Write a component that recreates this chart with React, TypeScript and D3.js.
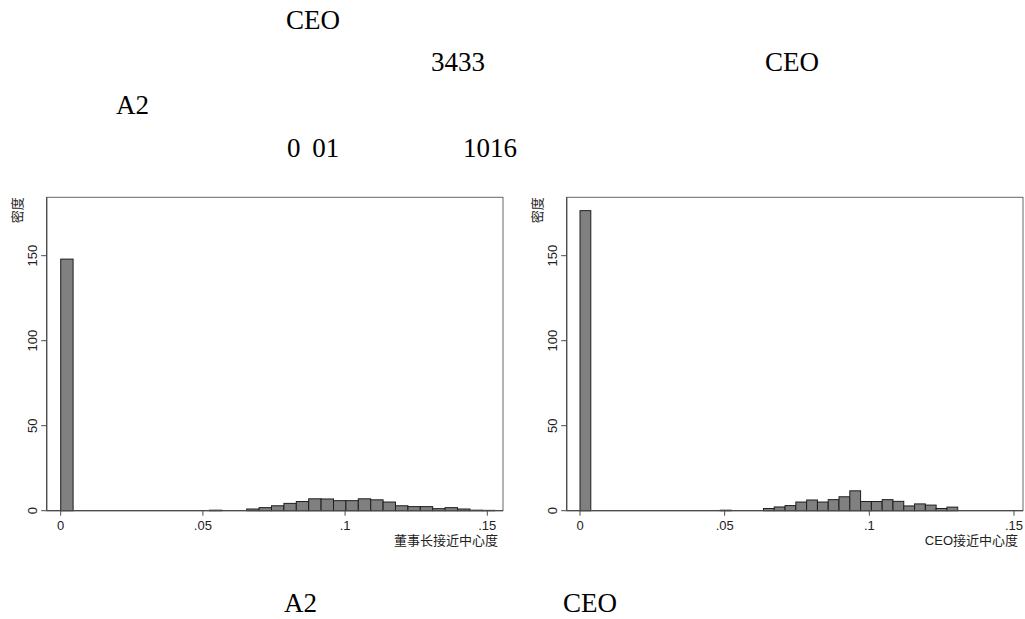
import React from "react";
import * as d3 from "d3";

// histogram densities, 35 bins starting at 0
const chairDensity = [
  148, 0, 0, 0, 0, 0, 0, 0, 0, 0, 0, 0, 0.3, 0, 0,
  1.0, 1.8, 2.9, 4.3, 5.4, 7.0, 6.9, 5.9, 5.9, 7.0, 6.4, 5.1, 2.9, 2.4, 2.4,
  1.2, 1.8, 1.0, 0.3, 0.2,
];
const ceoDensity = [
  176.5, 0, 0, 0, 0, 0, 0, 0, 0, 0, 0, 0, 0, 0.3, 0, 0, 0,
  1.3, 2.2, 3.0, 5.1, 6.3, 5.1, 6.5, 8.2, 11.7, 5.4, 5.4, 6.5, 5.5, 2.8,
  4.0, 3.3, 1.3, 2.1,
];
const chairBinWidth = 0.00436;
const ceoBinWidth = 0.00373;

const xTicks = [0, 0.05, 0.1, 0.15];
const xTickLabels = ["0", ".05", ".1", ".15"];
const yTicks = [0, 50, 100, 150];
const yTitle = "密度";
const chairTitle = "董事长接近中心度";
const ceoTitle = "CEO接近中心度";

// leftover document text around the figure
const docText = [
  { t: "CEO", x: 286, y: 29 },
  { t: "3433", x: 431, y: 71 },
  { t: "CEO", x: 765, y: 71 },
  { t: "A2", x: 116, y: 114 },
  { t: "0 01", x: 287, y: 157 },
  { t: "1016", x: 463, y: 157 },
  { t: "A2", x: 284, y: 612 },
  { t: "CEO", x: 563, y: 612 },
];

const sans = "'Liberation Sans', Arial, 'Noto Sans CJK SC', sans-serif";
const cjk = "'Noto Sans CJK SC', 'Liberation Sans', sans-serif";

type PanelProps = {
  density: number[];
  binWidth: number;
  title: string;
  frameX0: number;
  frameX1: number;
  xRange: [number, number];
};

const Panel = ({ density, binWidth, title, frameX0, frameX1, xRange }: PanelProps) => {
  const top = 197.3;
  const bottom = 510.7;
  const x = d3.scaleLinear().domain([0, 0.15]).range(xRange);
  const y = d3.scaleLinear().domain([0, 150]).range([bottom, 255.7]);
  const axisColor = "#4a4a4a";

  return (
    <g>
      {/* frame */}
      <rect
        x={frameX0}
        y={top}
        width={frameX1 - frameX0}
        height={bottom - top}
        fill="none"
        stroke="#666"
        strokeWidth={1}
      />
      {/* bars */}
      {density.map((d, i) =>
        d > 0 ? (
          <rect
            key={i}
            x={x(i * binWidth)}
            y={y(d)}
            width={x((i + 1) * binWidth) - x(i * binWidth)}
            height={bottom - y(d)}
            fill="#808080"
            stroke="#1e1e1e"
            strokeWidth={1}
          />
        ) : null
      )}
      {/* axes */}
      <line x1={frameX0} x2={frameX1} y1={bottom} y2={bottom} stroke={axisColor} strokeWidth={1.2} />
      <line x1={frameX0} x2={frameX0} y1={top} y2={bottom} stroke={axisColor} strokeWidth={1.2} />
      {yTicks.map((t) => (
        <g key={t}>
          <line x1={frameX0 - 5.5} x2={frameX0} y1={y(t)} y2={y(t)} stroke={axisColor} />
          <text
            transform={`translate(${frameX0 - 10},${y(t)}) rotate(-90)`}
            textAnchor="middle"
            fontFamily={sans}
            fontSize={13}
            fill="#222"
          >
            {t}
          </text>
        </g>
      ))}
      {xTicks.map((t, i) => (
        <g key={t}>
          <line x1={x(t)} x2={x(t)} y1={bottom} y2={bottom + 5} stroke={axisColor} />
          <text x={x(t)} y={530} textAnchor="middle" fontFamily={sans} fontSize={13} fill="#222">
            {xTickLabels[i]}
          </text>
        </g>
      ))}
      <text
        transform={`translate(${frameX0 - 24.5},${top}) rotate(-90)`}
        textAnchor="end"
        fontFamily={cjk}
        fontSize={13}
        fill="#222"
      >
        {yTitle}
      </text>
      <text x={frameX1 - 5} y={545} textAnchor="end" fontFamily={sans} fontSize={13} fill="#222">
        {title}
      </text>
    </g>
  );
};

const App = () => {
  return (
    <svg
      width={1025}
      height={619}
      style={{ position: "absolute", left: 0, top: 0, background: "#fff" }}
    >
      <rect width={1025} height={619} fill="#fff" />
      {docText.map((d, i) => (
        <text
          key={i}
          x={d.x}
          y={d.y}
          fontFamily="'Liberation Serif', 'Times New Roman', serif"
          fontSize={27}
          wordSpacing={5}
          fill="#000"
        >
          {d.t}
        </text>
      ))}
      <Panel
        density={chairDensity}
        binWidth={chairBinWidth}
        title={chairTitle}
        frameX0={46.7}
        frameX1={503}
        xRange={[60.7, 487.3]}
      />
      <Panel
        density={ceoDensity}
        binWidth={ceoBinWidth}
        title={ceoTitle}
        frameX0={566.7}
        frameX1={1023}
        xRange={[580, 1014]}
      />
    </svg>
  );
};

export default App;
